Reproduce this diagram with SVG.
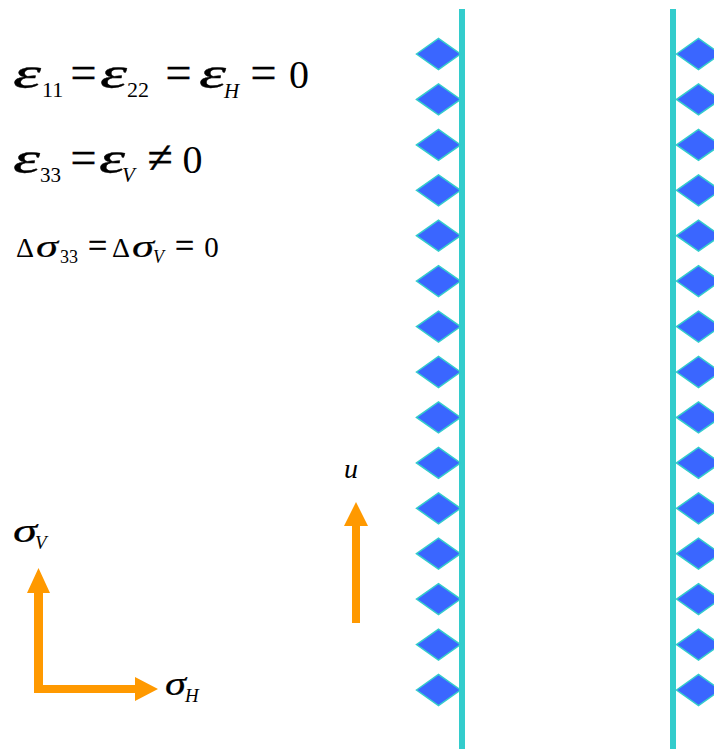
<svg xmlns="http://www.w3.org/2000/svg" xmlns:xlink="http://www.w3.org/1999/xlink" width="714" height="749" viewBox="0 0 714 749">
<style>
text{font-family:"Liberation Serif","Times New Roman",serif;fill:#000}
.i{font-style:italic}
.e{font-style:italic;stroke:#000;stroke-width:0.35}
.s{font-style:italic;stroke:#000;stroke-width:0.2}
.q{stroke:#000;stroke-width:0.4}
.wall{fill:#33CCCC}
.arr{fill:#FF9900}
</style>
<defs>
<polygon id="dia" points="-22,0 0,-15.5 22,0 0,15.5" fill="#3A66FF" stroke="#33CCCC" stroke-width="1.5"/>
</defs>
<rect width="714" height="749" fill="#fff"/>
<g id="eq1">
<text x="13" y="88" font-size="44" class="e" textLength="28" lengthAdjust="spacingAndGlyphs">ε</text>
<text x="42" y="97" font-size="22">11</text>
<text x="83.5" y="88" font-size="46" class="q" text-anchor="middle">=</text>
<text x="100" y="88" font-size="44" class="e" textLength="27" lengthAdjust="spacingAndGlyphs">ε</text>
<text x="127" y="97" font-size="22">22</text>
<text x="178.5" y="88" font-size="46" class="q" text-anchor="middle">=</text>
<text x="199" y="88" font-size="44" class="e" textLength="27" lengthAdjust="spacingAndGlyphs">ε</text>
<text x="224" y="98" font-size="21" class="i">H</text>
<text x="263.5" y="88" font-size="46" class="q" text-anchor="middle">=</text>
<text x="299" y="88" font-size="40" text-anchor="middle">0</text>
</g>
<g id="eq2">
<text x="13" y="173" font-size="44" class="e" textLength="27" lengthAdjust="spacingAndGlyphs">ε</text>
<text x="40" y="182" font-size="21">33</text>
<text x="83.5" y="173" font-size="46" class="q" text-anchor="middle">=</text>
<text x="99" y="173" font-size="44" class="e" textLength="26" lengthAdjust="spacingAndGlyphs">ε</text>
<text x="122" y="182" font-size="21" class="i">V</text>
<text x="160" y="173" font-size="46" class="q" text-anchor="middle">≠</text>
<text x="192.5" y="173" font-size="40" text-anchor="middle">0</text>
</g>
<g id="eq3">
<text x="16" y="257" font-size="28">Δ</text>
<text x="36" y="257" font-size="32" class="s" textLength="22" lengthAdjust="spacingAndGlyphs">σ</text>
<text x="60" y="263" font-size="18">33</text>
<text x="97.5" y="257" font-size="34" class="q" text-anchor="middle">=</text>
<text x="112" y="257" font-size="28">Δ</text>
<text x="132" y="257" font-size="32" class="s" textLength="22" lengthAdjust="spacingAndGlyphs">σ</text>
<text x="153" y="263" font-size="18" class="i">V</text>
<text x="184.5" y="257" font-size="34" class="q" text-anchor="middle">=</text>
<text x="211.5" y="257" font-size="29" text-anchor="middle">0</text>
</g>
<g id="walls">
<rect class="wall" x="459" y="9" width="6" height="740"/>
<rect class="wall" x="670" y="9" width="6" height="740"/>
</g>
<g id="left-diamonds">
<use xlink:href="#dia" x="438.5" y="54"/>
<use xlink:href="#dia" x="438.5" y="99.4"/>
<use xlink:href="#dia" x="438.5" y="144.9"/>
<use xlink:href="#dia" x="438.5" y="190.3"/>
<use xlink:href="#dia" x="438.5" y="235.7"/>
<use xlink:href="#dia" x="438.5" y="281.1"/>
<use xlink:href="#dia" x="438.5" y="326.6"/>
<use xlink:href="#dia" x="438.5" y="372"/>
<use xlink:href="#dia" x="438.5" y="417.4"/>
<use xlink:href="#dia" x="438.5" y="462.9"/>
<use xlink:href="#dia" x="438.5" y="508.3"/>
<use xlink:href="#dia" x="438.5" y="553.7"/>
<use xlink:href="#dia" x="438.5" y="599.1"/>
<use xlink:href="#dia" x="438.5" y="644.6"/>
<use xlink:href="#dia" x="438.5" y="690"/>
</g>
<g id="right-diamonds">
<use xlink:href="#dia" x="698.5" y="54"/>
<use xlink:href="#dia" x="698.5" y="99.4"/>
<use xlink:href="#dia" x="698.5" y="144.9"/>
<use xlink:href="#dia" x="698.5" y="190.3"/>
<use xlink:href="#dia" x="698.5" y="235.7"/>
<use xlink:href="#dia" x="698.5" y="281.1"/>
<use xlink:href="#dia" x="698.5" y="326.6"/>
<use xlink:href="#dia" x="698.5" y="372"/>
<use xlink:href="#dia" x="698.5" y="417.4"/>
<use xlink:href="#dia" x="698.5" y="462.9"/>
<use xlink:href="#dia" x="698.5" y="508.3"/>
<use xlink:href="#dia" x="698.5" y="553.7"/>
<use xlink:href="#dia" x="698.5" y="599.1"/>
<use xlink:href="#dia" x="698.5" y="644.6"/>
<use xlink:href="#dia" x="698.5" y="690"/>
</g>
<g id="arrows">
<polygon class="arr" points="34,693 34,593 27,593 38.5,568 50,593 43,593 43,685 135,685 135,677 158,689 135,701 135,693"/>
<polygon class="arr" points="352,623 352,526 344,526 356,502 368,526 360,526 360,623"/>
</g>
<g id="labels">
<text x="13" y="542" font-size="34" class="s" textLength="24" lengthAdjust="spacingAndGlyphs">σ</text>
<text x="35" y="549" font-size="19" class="i">V</text>
<text x="165" y="695" font-size="34" class="s" textLength="21" lengthAdjust="spacingAndGlyphs">σ</text>
<text x="185" y="702" font-size="19" class="i">H</text>
<text x="344" y="478" font-size="28" class="i">u</text>
</g>
</svg>
